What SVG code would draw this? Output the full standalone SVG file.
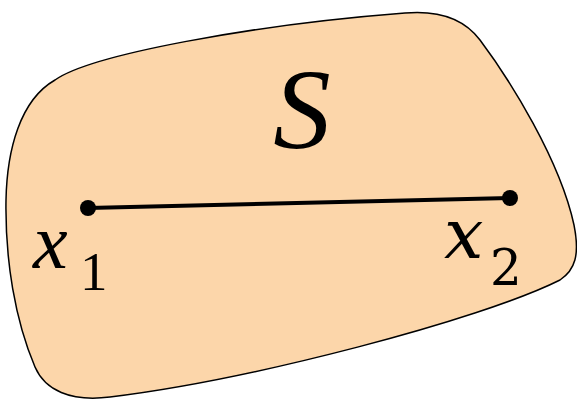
<svg xmlns="http://www.w3.org/2000/svg" width="577" height="399" viewBox="0 0 577 399">
<style>
.lbl{font-family:"Liberation Serif",serif;fill:#000}
.it{font-style:italic}
.dv{font-family:"DejaVu Serif",serif}
</style>
<rect width="577" height="399" fill="#fff"/>
<g id="S">
<path d="M 55,80 C 90,55 250,25 405,13 C 440,10 465,20 480,40 C 510,80 560,160 574,225 C 580,255 575,270 560,280 C 480,320 250,380 110,397 C 70,402 45,390 35,367 C 15,320 5,260 6,200 C 7,150 20,100 55,80 Z" fill="#FCD6AA" stroke="#000" stroke-width="1.5"/>
<text class="lbl it" x="302" y="148" font-size="115" text-anchor="middle">S</text>
</g>
<g id="connectors">
<line x1="88" y1="208" x2="510" y2="198" stroke="#000" stroke-width="4"/>
</g>
<g id="x1">
<circle cx="88" cy="208" r="8" fill="#000"/>
<text class="lbl it" x="33" y="268" font-size="78">x</text>
<text class="lbl" x="80" y="290" font-size="55">1</text>
</g>
<g id="x2">
<circle cx="510" cy="198" r="8" fill="#000"/>
<text class="lbl it dv" x="444" y="258" font-size="70">x</text>
<text class="lbl dv" x="490" y="285" font-size="50">2</text>
</g>
</svg>
